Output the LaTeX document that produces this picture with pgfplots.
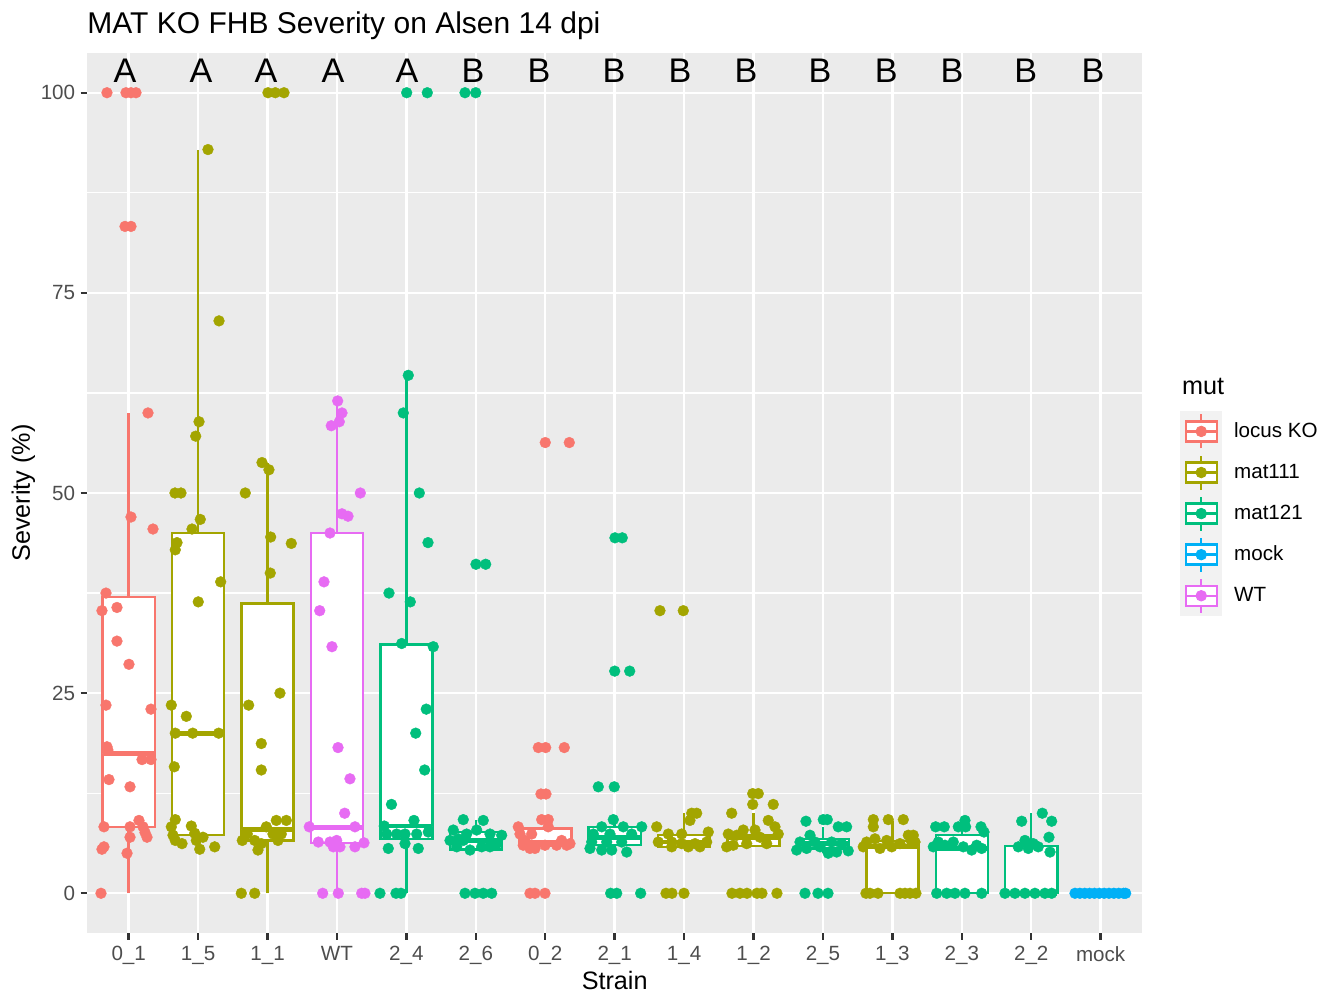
\documentclass[border=0pt]{standalone}
\usepackage{pgfplots}
\pgfplotsset{compat=1.18}
\usepgfplotslibrary{statistics}
\usetikzlibrary{calc}
\usepackage{fontspec}
\setmainfont{Liberation Sans}

\definecolor{lkoC}{HTML}{F8766D}
\definecolor{mAC}{HTML}{A3A500}
\definecolor{mBC}{HTML}{00BF7D}
\definecolor{mockC}{HTML}{00B0F6}
\definecolor{wtC}{HTML}{E76BF3}
\definecolor{panelC}{HTML}{EBEBEB}
\definecolor{keyC}{HTML}{F2F2F2}
\definecolor{tickC}{HTML}{333333}
\definecolor{ticklabC}{HTML}{4D4D4D}

\pgfplotsset{
  boxplot/draw direction=y,
  boxplot/every median/.style={line width=2.4pt},
  mutkey/.style={legend image code/.code={%
      \fill[keyC] (0pt,-10.07pt) rectangle (20.5pt,10.07pt);
      \draw[#1,line width=1.2pt] (10.25pt,-8.5pt) -- (10.25pt,8.5pt);
      \draw[#1,line width=1.2pt,fill=white] (2.5pt,-5pt) rectangle (18pt,5pt);
      \draw[#1,line width=1.2pt] (2.5pt,0pt) -- (18pt,0pt);
      \fill[#1] (10.25pt,0pt) circle[radius=2.65pt];
      \path (26.5pt,0pt);
  }},
  bx/.style={forget plot, draw=#1, fill=white, line width=1.2pt, solid},
  pts/.style={forget plot, only marks, mark=*, mark size=2.7pt, color=#1,
      mark options={solid, fill=#1, draw=#1, line width=0.2pt}},
}

\begin{document}
\begin{tikzpicture}
\begin{axis}[
  name=ax,
  scale only axis,
  width=527.65pt, height=440.3pt,
  xmin=-0.6, xmax=14.6, ymin=-5, ymax=105,
  axis background/.style={fill=panelC},
  axis line style={draw=none},
  xtick={0,1,2,3,4,5,6,7,8,9,10,11,12,13,14},
  xticklabels={0\_1,1\_5,1\_1,WT,2\_4,2\_6,0\_2,2\_1,1\_4,1\_2,2\_5,1\_3,2\_3,2\_2,mock},
  ytick={0,25,50,75,100},
  minor ytick={12.5,37.5,62.5,87.5},
  xmajorgrids, ymajorgrids, yminorgrids,
  major grid style={white, line width=1.2pt},
  minor grid style={white, line width=0.6pt},
  tick pos=left,
  tick align=outside,
  major tick length=3.2pt,
  minor tick length=0pt,
  tick style={color=tickC, line width=1.2pt},
  /pgf/number format/assume math mode=true,
  ticklabel style={font=\fontsize{10.3}{12}\selectfont, text=ticklabC, inner sep=0pt},
  xticklabel style={anchor=north, yshift=-3.2pt},
  yticklabel style={anchor=east, xshift=-2.55pt},
  legend cell align=left,
  legend style={at={(1.03563,0.59369)}, anchor=north west, draw=none, fill=none,
    inner sep=0pt, row sep=0pt, column sep=0pt,
    nodes={inner sep=0pt, font=\fontsize{10.3}{12}\selectfont, text=black}},
]

% boxes
\addplot[bx=lkoC, boxplot prepared={draw position=0, lower whisker=0, lower quartile=8.3, median=17.5, upper quartile=37.0, upper whisker=60.0, box extend=0.75, whisker extend=0}] coordinates {};
\addplot[bx=mAC, boxplot prepared={draw position=1, lower whisker=5.5, lower quartile=7.25, median=20.0, upper quartile=45.0, upper whisker=92.9, box extend=0.75, whisker extend=0}] coordinates {};
\addplot[bx=mAC, boxplot prepared={draw position=2, lower whisker=0, lower quartile=6.6, median=8.0, upper quartile=36.2, upper whisker=53.8, box extend=0.75, whisker extend=0}] coordinates {};
\addplot[bx=wtC, boxplot prepared={draw position=3, lower whisker=0, lower quartile=6.3, median=8.25, upper quartile=45.0, upper whisker=61.5, box extend=0.75, whisker extend=0}] coordinates {};
\addplot[bx=mBC, boxplot prepared={draw position=4, lower whisker=0, lower quartile=6.8, median=8.4, upper quartile=31.1, upper whisker=64.7, box extend=0.75, whisker extend=0}] coordinates {};
\addplot[bx=mBC, boxplot prepared={draw position=5, lower whisker=5.4, lower quartile=5.45, median=6.6, upper quartile=7.65, upper whisker=9.2, box extend=0.75, whisker extend=0}] coordinates {};
\addplot[bx=lkoC, boxplot prepared={draw position=6, lower whisker=5.6, lower quartile=5.9, median=6.3, upper quartile=8.1, upper whisker=9.2, box extend=0.75, whisker extend=0}] coordinates {};
\addplot[bx=mBC, boxplot prepared={draw position=7, lower whisker=5.15, lower quartile=6.0, median=7.0, upper quartile=8.3, upper whisker=9.2, box extend=0.75, whisker extend=0}] coordinates {};
\addplot[bx=mAC, boxplot prepared={draw position=8, lower whisker=5.8, lower quartile=5.8, median=6.4, upper quartile=7.25, upper whisker=10.0, box extend=0.75, whisker extend=0}] coordinates {};
\addplot[bx=mAC, boxplot prepared={draw position=9, lower whisker=5.8, lower quartile=5.9, median=6.9, upper quartile=7.25, upper whisker=10.0, box extend=0.75, whisker extend=0}] coordinates {};
\addplot[bx=mBC, boxplot prepared={draw position=10, lower whisker=5.0, lower quartile=5.6, median=6.2, upper quartile=6.8, upper whisker=8.3, box extend=0.75, whisker extend=0}] coordinates {};
\addplot[bx=mAC, boxplot prepared={draw position=11, lower whisker=0, lower quartile=0, median=5.8, upper quartile=6.5, upper whisker=9.0, box extend=0.75, whisker extend=0}] coordinates {};
\addplot[bx=mBC, boxplot prepared={draw position=12, lower whisker=0, lower quartile=0, median=5.6, upper quartile=7.25, upper whisker=9.1, box extend=0.75, whisker extend=0}] coordinates {};
\addplot[bx=mBC, boxplot prepared={draw position=13, lower whisker=0, lower quartile=0, median=0, upper quartile=5.9, upper whisker=10.0, box extend=0.75, whisker extend=0}] coordinates {};
\addplot[bx=mockC, boxplot prepared={draw position=14, lower whisker=0, lower quartile=0, median=0, upper quartile=0, upper whisker=0, box extend=0.75, whisker extend=0}] coordinates {};

% jittered observations: locus KO
\addplot[pts=lkoC] coordinates {
 (-0.313,100) (-0.039,100) (0.033,100) (0.105,100) (-0.053,83.3) (0.033,83.3)
 (0.278,60) (0.033,47) (0.35,45.5) (-0.327,37.5) (-0.169,35.7) (-0.385,35.3)
 (-0.169,31.5) (0.004,28.6) (-0.327,23.5) (0.321,23.0) (-0.313,18.3) (-0.30,17.9)
 (0.192,16.7) (0.321,16.7) (-0.284,14.2) (0.019,13.3) (0.148,9.1) (-0.356,8.3)
 (0.019,8.3) (0.206,8.3) (0.235,7.6) (0.264,7.0) (0.019,7.0) (-0.356,5.8)
 (-0.385,5.5) (-0.024,5.0) (-0.399,0)
 (6.0,56.3) (6.346,56.3) (5.9,18.2) (6.006,18.2) (6.274,18.2) (5.938,12.4) (6.01,12.4)
 (5.948,9.2) (6.043,9.2) (5.611,8.3) (5.636,7.4) (5.804,7.4) (6.043,8.3) (5.683,6.0)
 (5.852,5.6) (5.996,6.0) (6.164,6.0) (6.309,6.0) (6.356,6.2) (5.708,6.6) (6.236,6.6)
 (5.78,5.6) (5.78,0) (5.852,0) (5.996,0)
};
% mat111
\addplot[pts=mAC] coordinates {
 (1.142,92.9) (1.301,71.5) (1.013,58.9) (0.965,57.1) (0.667,50) (0.753,50) (1.031,46.7)
 (0.912,45.5) (0.696,43.8) (0.671,42.9) (1.325,38.9) (1.002,36.4) (0.614,23.5) (0.83,22.1)
 (0.671,20.0) (0.922,20.0) (1.296,20.0) (0.657,15.8) (0.671,9.2) (0.614,8.3) (0.902,8.4)
 (0.638,7.25) (0.951,7.5) (1.07,7.0) (0.768,6.2) (0.974,6.6) (1.023,5.5) (1.239,5.8) (0.671,6.6)
 (2.006,100) (2.112,100) (2.237,100) (1.92,53.8) (2.02,52.9) (1.679,50) (2.045,44.5)
 (2.342,43.7) (2.039,40.0) (2.179,25.0) (1.728,23.5) (1.91,18.7) (1.91,15.4) (1.636,6.6)
 (1.815,6.6) (1.862,5.4) (1.982,8.3) (2.126,9.1) (2.27,9.1) (2.078,7.4) (2.198,7.4)
 (2.15,6.6) (1.91,6.2) (1.708,7.4) (1.622,0) (1.815,0)
 (7.652,35.3) (7.988,35.3) (7.605,8.3) (7.772,7.4) (7.965,7.4) (8.109,10.0) (8.181,10.0)
 (8.084,9.1) (7.628,6.4) (7.821,6.4) (7.965,6.2) (8.157,6.2) (7.821,5.8) (8.06,5.8)
 (8.228,5.8) (8.348,7.65) (8.325,6.4) (7.739,0) (7.825,0) (7.998,0)
 (8.988,12.45) (9.068,12.45) (8.988,11.1) (9.284,11.1) (8.685,10.0) (9.212,9.1) (8.852,7.9)
 (9.021,7.9) (9.309,8.3) (8.636,7.4) (8.757,7.25) (9.093,7.0) (9.356,7.4) (8.613,5.8)
 (8.708,6.0) (8.901,6.2) (9.189,6.2) (8.689,0) (8.804,0) (8.905,0) (9.049,0) (9.121,0) (9.337,0)
 (10.725,9.2) (10.941,9.2) (11.157,9.2) (10.725,8.3) (10.629,6.4) (10.749,6.8) (10.918,6.6)
 (11.109,6.2) (10.58,5.8) (10.821,5.6) (10.99,5.8) (11.229,7.25) (11.301,7.25) (11.278,6.4)
 (11.325,6.4) (10.619,0) (10.677,0) (10.792,0) (11.109,0) (11.181,0) (11.253,0) (11.339,0)
};
% mat121
\addplot[pts=mBC] coordinates {
 (4.004,100) (4.301,100) (4.027,64.7) (3.955,60.0) (4.186,50.0) (4.311,43.8) (3.749,37.5)
 (4.056,36.4) (3.932,31.2) (4.387,30.8) (4.286,23.0) (4.134,20.0) (4.263,15.4) (3.785,11.1)
 (3.681,8.4) (4.109,9.1) (3.716,7.4) (3.86,7.4) (3.98,7.4) (4.148,7.4) (4.315,7.65)
 (3.739,5.6) (3.98,6.2) (4.171,5.6) (3.619,0) (3.85,0) (3.922,0)
 (4.844,100) (4.998,100) (5.002,41.1) (5.142,41.1) (4.819,9.2) (5.107,9.1) (4.675,7.9)
 (4.747,6.8) (4.868,7.4) (5.012,7.9) (5.204,7.4) (4.724,5.8) (4.916,5.4) (5.084,5.8)
 (5.204,5.8) (4.628,6.6) (4.819,6.6) (5.372,7.25) (5.3,6.2) (4.844,0) (4.988,0) (5.107,0) (5.228,0)
 (7.004,44.4) (7.109,44.4) (7.0,27.75) (7.216,27.75) (6.764,13.3) (6.994,13.3) (6.98,9.2)
 (6.813,8.3) (7.124,8.3) (7.389,8.3) (6.692,7.4) (6.932,7.4) (7.245,7.4) (6.669,6.4)
 (6.885,6.4) (7.101,6.4) (6.644,5.6) (6.813,5.4) (6.957,5.4) (7.173,5.15) (6.942,0)
 (7.029,0) (7.374,0)
 (9.755,9.0) (10.004,9.2) (10.062,9.2) (10.22,8.3) (10.341,8.3) (9.813,7.25) (9.669,6.4)
 (9.885,6.4) (10.125,6.4) (10.269,6.2) (9.621,5.4) (9.765,5.6) (9.957,5.8) (10.076,5.0)
 (10.197,5.15) (10.364,5.3) (9.741,0) (9.928,0) (10.072,0)
 (11.623,8.3) (11.747,8.3) (11.949,8.3) (12.045,9.1) (12.055,8.3) (12.276,8.3) (12.319,7.65)
 (11.589,5.8) (11.661,6.4) (11.877,6.4) (12.142,5.4) (12.286,5.6) (11.757,6.0) (12.021,5.8)
 (12.214,6.0) (11.638,0) (11.782,0) (11.901,0) (12.045,0) (12.286,0)
 (13.159,10.0) (13.294,9.0) (12.862,9.0) (13.255,7.0) (13.27,5.15) (12.909,6.6) (12.813,5.8)
 (12.957,5.6) (13.101,5.8) (13.029,6.2) (12.621,0) (12.765,0) (12.909,0) (13.053,0)
 (13.197,0) (13.294,0)
};
% mock
\addplot[pts=mockC] coordinates {
 (13.63,0) (13.70,0) (13.77,0) (13.84,0) (13.91,0) (13.98,0) (14.05,0) (14.12,0)
 (14.19,0) (14.26,0) (14.33,0) (14.36,0)
};
% WT
\addplot[pts=wtC] coordinates {
 (3.01,61.5) (3.072,60.0) (3.033,58.9) (2.918,58.4) (3.336,50) (3.072,47.4) (3.159,47.1)
 (2.899,45.0) (2.813,38.9) (2.751,35.3) (2.928,30.8) (3.015,18.2) (3.187,14.3) (3.111,10.0)
 (2.601,8.3) (3.259,8.3) (2.731,6.4) (2.899,6.4) (2.996,6.6) (3.043,5.8) (3.259,5.8)
 (3.389,6.3) (2.947,5.8) (2.794,0) (3.019,0) (3.356,0) (3.403,0)
};

% legend keys
\addlegendimage{mutkey=lkoC}\addlegendentry{locus KO}
\addlegendimage{mutkey=mAC}\addlegendentry{mat111}
\addlegendimage{mutkey=mBC}\addlegendentry{mat121}
\addlegendimage{mutkey=mockC}\addlegendentry{mock}
\addlegendimage{mutkey=wtC}\addlegendentry{WT}

% significance groups
\begin{scope}[every node/.style={font=\fontsize{17.07}{20}\selectfont, inner sep=0pt, anchor=center}]
\node at (axis cs:-0.053,102.75) {A};
\node at (axis cs:1.041,102.75) {A};
\node at (axis cs:1.977,102.75) {A};
\node at (axis cs:2.943,102.75) {A};
\node at (axis cs:4.01,102.75) {A};
\node at (axis cs:4.96,102.75) {B};
\node at (axis cs:5.91,102.75) {B};
\node at (axis cs:6.99,102.75) {B};
\node at (axis cs:7.94,102.75) {B};
\node at (axis cs:8.89,102.75) {B};
\node at (axis cs:9.956,102.75) {B};
\node at (axis cs:10.91,102.75) {B};
\node at (axis cs:11.858,102.75) {B};
\node at (axis cs:12.92,102.75) {B};
\node at (axis cs:13.889,102.75) {B};
\end{scope}
\end{axis}

% titles
\node[anchor=base west, inner sep=0pt, font=\fontsize{15}{18}\selectfont] at ([yshift=9.8pt]ax.north west) {MAT KO FHB Severity on Alsen 14 dpi};
\node[anchor=base, inner sep=0pt, font=\fontsize{12.6}{15}\selectfont] at ([yshift=-27.9pt]ax.south) {Strain};
\node[anchor=base, rotate=90, inner sep=0pt, font=\fontsize{12.6}{15}\selectfont] at ([xshift=-28.6pt]ax.west) {Severity (\%)};
\node[anchor=base west, inner sep=0pt, font=\fontsize{12.6}{15}\selectfont] at ($(ax.north east)+(19.65pt,-171.15pt)$) {mut};

% page extent
\path ([xshift=-43.52pt,yshift=-31.35pt]ax.south west) rectangle ++(661pt,498pt);
\end{tikzpicture}
\end{document}
